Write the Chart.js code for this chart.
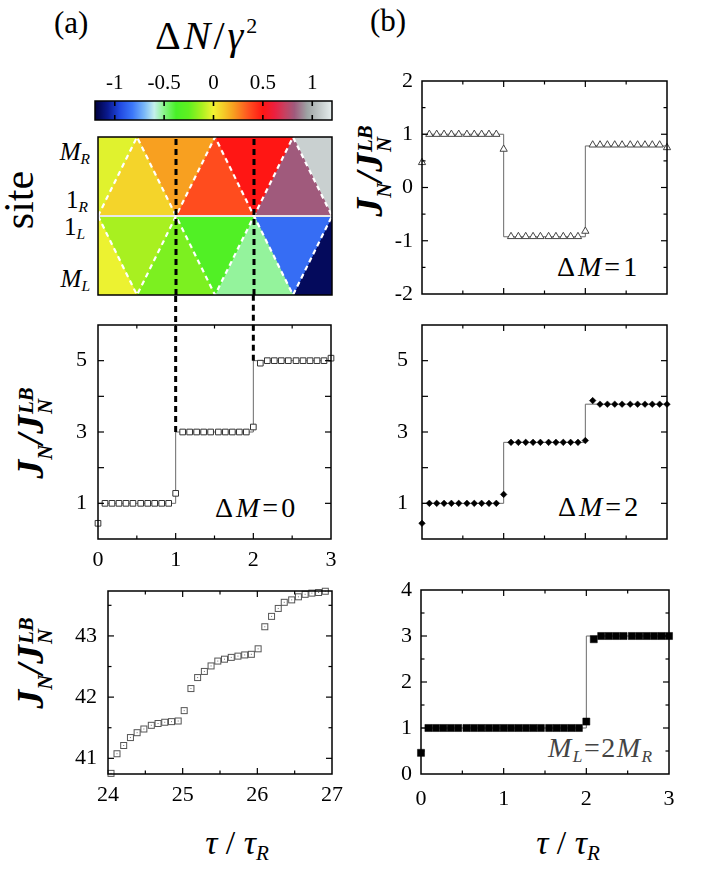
<!DOCTYPE html>
<html><head><meta charset="utf-8">
<script src="https://cdn.jsdelivr.net/npm/chart.js@4.4.1/dist/chart.umd.min.js"></script>
<style>
html,body{margin:0;padding:0;background:#fff;}
body{width:706px;height:873px;position:relative;overflow:hidden;}
.box{position:absolute;}
.t{position:absolute;white-space:nowrap;font-family:'Liberation Serif','DejaVu Serif','Times New Roman',serif;color:#000;line-height:1;}
.c{transform:translate(-50%,-50%);}
.r{transform:translate(-100%,-50%);}
.rot{transform:translate(-50%,-50%) rotate(-90deg);}
.s{font-size:0.62em;vertical-align:-0.3em;line-height:0;font-style:italic;}
.bi{font-weight:bold;font-style:italic;}
.sb{font-size:0.55em;vertical-align:-0.4em;line-height:0;}
.st{display:inline-block;font-size:0.55em;line-height:0.95;vertical-align:-0.45em;margin-left:1px;}
.st span{display:block;}
</style></head><body>

<div class="t" style="left:54px;top:7px;font-size:31px">(a)</div>
<div class="t" style="left:370px;top:5px;font-size:31px">(b)</div>
<div class="t" style="left:155px;top:16px;font-size:40px;letter-spacing:3px">Δ<i>N</i>/<i>γ</i><span style="font-size:0.55em;vertical-align:0.75em;line-height:0">2</span></div>
<div class="t rot" style="left:19px;top:200px;font-size:42px">site</div>

<div class="t r" style="left:90px;top:151px;font-size:25px"><i>M</i><span class="s">R</span></div>
<div class="t r" style="left:88px;top:199px;font-size:25px">1<span class="s">R</span></div>
<div class="t r" style="left:85px;top:226px;font-size:25px">1<span class="s">L</span></div>
<div class="t r" style="left:90px;top:278px;font-size:25px"><i>M</i><span class="s">L</span></div>

<div class="t rot bi" style="left:34px;top:433px;font-size:38px">J<span class="sb">N</span>/J<span class="st"><span>LB</span><span>N</span></span></div>
<div class="t rot bi" style="left:34px;top:663px;font-size:38px">J<span class="sb">N</span>/J<span class="st"><span>LB</span><span>N</span></span></div>
<div class="t rot bi" style="left:373px;top:171px;font-size:38px">J<span class="sb">N</span>/J<span class="st"><span>LB</span><span>N</span></span></div>

<div class="t c" style="left:237px;top:843px;font-size:34px"><i>τ</i> / <i>τ</i><span class="s">R</span></div>
<div class="t c" style="left:568px;top:843px;font-size:34px"><i>τ</i> / <i>τ</i><span class="s">R</span></div>

<div class="t" style="left:557px;top:253px;font-size:28px;letter-spacing:3px">Δ<i>M</i>=1</div>
<div class="t" style="left:215px;top:494px;font-size:28px;letter-spacing:3px">Δ<i>M</i>=0</div>
<div class="t" style="left:558px;top:493px;font-size:28px;letter-spacing:3px">Δ<i>M</i>=2</div>
<div class="t" style="left:548px;top:734px;font-size:28px;letter-spacing:1.5px;color:#444"><i>M</i><span class="s">L</span>=2<i>M</i><span class="s">R</span></div>

<script>
const FONT = "'Liberation Serif', 'DejaVu Serif', 'Times New Roman', serif";

// ---------------- data ----------------
// colour bar
const cbMin = -1.2, cbMax = 1.2;
const cbTicks = [-1, -0.5, 0, 0.5, 1];
const cbStops = [
  [-1.2,'#00003c'],[-1.07,'#0a1a90'],[-0.95,'#2048e0'],[-0.82,'#3c78fa'],
  [-0.7,'#7ab8f8'],[-0.6,'#c4f0ec'],[-0.5,'#88f488'],[-0.38,'#48f028'],
  [-0.25,'#60f020'],[-0.12,'#a8f020'],[0,'#f2f232'],[0.1,'#f4cc28'],
  [0.2,'#f8a020'],[0.35,'#ff5420'],[0.5,'#ff1614'],[0.62,'#ec2040'],
  [0.72,'#c84060'],[0.82,'#a05a7c'],[0.95,'#9ea4a4'],[1.2,'#e6eeee']
];
// site map: zig-zag vertices (tau) and the value of each triangle
const zigX = [0, 0.5, 1, 1.5, 2, 2.5, 3];
const upperVals = [-0.03, 0.08, 0.2, 0.37, 0.5, 0.82, 1.1];   // between 1_R and M_R
const lowerVals = [-0.01, -0.12, -0.2, -0.33, -0.52, -0.85, -1.15]; // between M_L and 1_L
const dividers = [1, 2];

// tau sampling for the step panels
const tauB = [0,0.09,0.18,0.27,0.36,0.45,0.55,0.64,0.73,0.82,0.91,1,
              1.09,1.18,1.27,1.36,1.45,1.55,1.64,1.73,1.82,1.91,2,
              2.09,2.18,2.27,2.36,2.45,2.55,2.64,2.73,2.82,2.91,3];
const dM0 = [0.44,1,1,1,1,1,1,1,1,1,1,1.28,3,3,3,3,3,3,3,3,3,3,3.14,4.93,5,5,5,5,5,5,5,5,5,5.07];
const dM1 = [0.47,1,1,1,1,1,1,1,1,1,1,0.72,-0.92,-0.92,-0.92,-0.92,-0.92,-0.92,-0.92,-0.92,-0.92,-0.92,-0.82,0.8,0.8,0.8,0.8,0.8,0.8,0.8,0.8,0.8,0.8,0.75];
const dM2 = [0.44,1,1,1,1,1,1,1,1,1,1,1.25,2.71,2.71,2.71,2.71,2.71,2.71,2.71,2.71,2.71,2.71,2.76,3.88,3.78,3.78,3.78,3.78,3.78,3.78,3.78,3.78,3.78,3.78];
const mL2 = [0.46,1,1,1,1,1,1,1,1,1,1,1,1,1,1,1,1,1,1,1,1,1,1.14,2.93,3,3,3,3,3,3,3,3,3,3];

const stepTau = [0, 1, 2, 3];
const stepA0 = [1, 3, 5, 5];
const stepB1 = [1, -0.925, 0.78, 0.78];
const stepB2 = [1, 2.71, 3.78, 3.78];
const stepTauML = [0, 2, 3];
const stepML = [1, 3, 3];

// late times (tau 24 .. 27)
const tauLate = [24.04,24.12,24.21,24.3,24.39,24.48,24.58,24.67,24.76,24.85,24.94,25.02,25.11,25.2,25.29,25.38,25.47,25.56,25.65,25.74,25.83,25.92,26.01,26.1,26.19,26.28,26.36,26.46,26.55,26.64,26.73,26.82,26.91];
const late = [40.755,41.075,41.21,41.34,41.42,41.48,41.54,41.57,41.59,41.6,41.61,41.78,42.14,42.32,42.42,42.51,42.59,42.62,42.65,42.67,42.69,42.7,42.79,43.15,43.32,43.45,43.55,43.59,43.64,43.68,43.7,43.71,43.73];

// tick values
const xLab03 = [0, 1, 2, 3];
const xMaj03 = [1, 2], xMin03 = [0.5, 1.5, 2.5];
const yLabA = [1, 3, 5], yMajA = [1, 2, 3, 4, 5];
const yLabB1 = [-2, -1, 0, 1, 2], yMajB1 = [-1, 0, 1], yMinB1 = [-1.5, -0.5, 0.5, 1.5];
const yLabML = [0, 1, 2, 3, 4], yMajML = [1, 2, 3], yMinML = [0.5, 1.5, 2.5, 3.5];
const xLabLate = [24, 25, 26, 27], xMajLate = [25, 26], xMinLate = [24.5, 25.5, 26.5];
const yLabLate = [41, 42, 43], yMinLate = [41.5, 42.5, 43.5];

// ---------------- helpers ----------------
function hex(c){return [parseInt(c.slice(1,3),16),parseInt(c.slice(3,5),16),parseInt(c.slice(5,7),16)];}
function cmap(v){
  if (v <= cbStops[0][0]) return cbStops[0][1];
  for (let i=1;i<cbStops.length;i++){
    if (v <= cbStops[i][0]){
      const [v0,c0]=cbStops[i-1],[v1,c1]=cbStops[i];
      const f=(v-v0)/(v1-v0), a=hex(c0), b=hex(c1);
      return 'rgb('+a.map((x,k)=>Math.round(x+(b[k]-x)*f)).join(',')+')';
    }
  }
  return cbStops[cbStops.length-1][1];
}
const pts = (xs, ys) => xs.map((x,i)=>({x, y: ys[i]}));

const frameTicks = {
  id: 'frameTicks',
  afterDatasetsDraw(chart, args, o) {
    const {ctx, chartArea: a, scales} = chart;
    const xs = scales.x, ys = scales.y;
    ctx.save();
    ctx.strokeStyle = '#000';
    ctx.lineWidth = o.tw || 1.2;
    const seg=(x1,y1,x2,y2)=>{ctx.beginPath();ctx.moveTo(x1,y1);ctx.lineTo(x2,y2);ctx.stroke();};
    const M = o.major || 6, m = o.minor || 3.5;
    const doX=(vals,L)=>(vals||[]).forEach(v=>{const p=xs.getPixelForValue(v);seg(p,a.bottom,p,a.bottom-L);seg(p,a.top,p,a.top+L);});
    const doY=(vals,L)=>(vals||[]).forEach(v=>{const p=ys.getPixelForValue(v);seg(a.left,p,a.left+L,p);seg(a.right,p,a.right-L,p);});
    doX(o.xMajor,M); doX(o.xMinor,m); doY(o.yMajor,M); doY(o.yMinor,m);
    ctx.lineWidth = o.fw || 1.5;
    ctx.strokeRect(a.left, a.top, a.width, a.height);
    ctx.restore();
  }
};

function mk(rect, pad, cfg) {
  const d = document.createElement('div');
  d.className = 'box';
  d.style.left = (rect[0]-pad.l)+'px';
  d.style.top = (rect[1]-pad.t)+'px';
  d.style.width = (rect[2]-rect[0]+pad.l+pad.r)+'px';
  d.style.height = (rect[3]-rect[1]+pad.t+pad.b)+'px';
  const c = document.createElement('canvas');
  d.appendChild(c); document.body.appendChild(d);
  cfg.plugins = (cfg.plugins||[]).concat([frameTicks]);
  return new Chart(c, cfg);
}

function panel(o) {
  return {
    responsive: true, maintainAspectRatio: false, animation: false,
    layout: {padding: {top: o.pad.t, right: o.pad.r, left: 0, bottom: 0}},
    plugins: {legend: {display: false}, tooltip: {enabled: false}, frameTicks: o.ticks},
    scales: {
      x: {type: 'linear', position: 'bottom', min: o.xmin, max: o.xmax,
          grid: {display: false, drawTicks: false}, border: {display: false},
          afterBuildTicks: s => { s.ticks = o.xLab.map(v => ({value: v})); },
          afterFit: s => { s.height = o.pad.b; s.paddingLeft = 0; s.paddingRight = 0; s.paddingTop = 0; s.paddingBottom = 0; },
          ticks: {display: o.showX, autoSkip: false, maxRotation: 0, padding: o.xPad || 8,
                  font: {family: FONT, size: 22}, color: '#000', callback: v => String(v)}},
      y: {type: 'linear', position: 'left', min: o.ymin, max: o.ymax,
          grid: {display: false, drawTicks: false}, border: {display: false},
          afterBuildTicks: s => { s.ticks = o.yLab.map(v => ({value: v})); },
          afterFit: s => { s.width = o.pad.l; s.paddingLeft = 0; s.paddingRight = 0; s.paddingTop = 0; s.paddingBottom = 0; },
          ticks: {autoSkip: false, padding: o.yPad || 10,
                  font: {family: FONT, size: 22}, color: '#000', callback: v => String(v)}}
    }
  };
}

const stepDs = (xs, ys) => ({data: pts(xs, ys), stepped: 'before', borderColor: '#6a6a6a', borderWidth: 1, pointRadius: 0, fill: false});

// ---------------- colour bar ----------------
(function(){
  const pad = {l: 3, r: 3, t: 40, b: 3};
  mk([95,101,332,120], pad, {
    type: 'bar',
    data: {labels: ['c'], datasets: [{
      data: [[cbMin, cbMax]], borderWidth: 0, barPercentage: 1, categoryPercentage: 1,
      backgroundColor: (c) => {
        const ch = c.chart, xs = ch.scales.x;
        if (!ch.chartArea || !xs) return '#888';
        const p0 = xs.getPixelForValue(cbMin), p1 = xs.getPixelForValue(cbMax);
        const g = ch.ctx.createLinearGradient(p0, 0, p1, 0);
        cbStops.forEach(([v, col]) => g.addColorStop((v - cbMin) / (cbMax - cbMin), col));
        return g;
      }
    }]},
    options: {
      indexAxis: 'y', responsive: true, maintainAspectRatio: false, animation: false,
      layout: {padding: {left: pad.l, right: pad.r, top: 0, bottom: pad.b}},
      plugins: {legend: {display: false}, tooltip: {enabled: false},
                frameTicks: {xMajor: cbTicks, major: 5, tw: 1.6, fw: 1.5}},
      scales: {
        x: {type: 'linear', position: 'top', min: cbMin, max: cbMax,
            grid: {display: false, drawTicks: false}, border: {display: false},
            afterBuildTicks: s => { s.ticks = cbTicks.map(v => ({value: v})); },
            afterFit: s => { s.height = pad.t; s.paddingLeft = 0; s.paddingRight = 0; },
            ticks: {autoSkip: false, maxRotation: 0, padding: 5, font: {family: FONT, size: 21}, color: '#000', callback: v => String(v)}},
        y: {display: false}
      }
    }
  });
})();

// ---------------- site map ----------------
(function(){
  const ds = [];
  dividers.forEach(t => ds.push({data: pts([t, t], [0, 1]), borderColor: '#000', borderWidth: 3, borderDash: [6, 4], pointRadius: 0, fill: false}));
  ds.push({data: pts(zigX, zigX.map((_, i) => i % 2 ? 1 : 0.5)), borderColor: '#fff', borderWidth: 2.2, borderDash: [5, 4], pointRadius: 0, fill: false});
  ds.push({data: pts(zigX, zigX.map((_, i) => i % 2 ? 0 : 0.5)), borderColor: '#fff', borderWidth: 2.2, borderDash: [5, 4], pointRadius: 0, fill: false});
  ds.push({data: pts([0, 3], [0.5, 0.5]), borderColor: '#e8e8e8', borderWidth: 2, pointRadius: 0, fill: false});
  const tri = (vals, apex) => vals.forEach((v, i) => {
    let xs, ys, base;
    if (i === 0) { xs = [zigX[0], zigX[1]]; ys = [0.5, apex]; base = apex; }
    else if (i === vals.length - 1) { xs = [zigX[i - 1], zigX[i]]; ys = [apex, 0.5]; base = apex; }
    else if (i % 2) { xs = [zigX[i - 1], zigX[i], zigX[i + 1]]; ys = [0.5, apex, 0.5]; base = 0.5; }
    else { xs = [zigX[i - 1], zigX[i], zigX[i + 1]]; ys = [apex, 0.5, apex]; base = apex; }
    const col = cmap(v);
    ds.push({data: pts(xs, ys), borderColor: col, backgroundColor: col, borderWidth: 1, pointRadius: 0, fill: {value: base}});
  });
  tri(upperVals, 1);
  tri(lowerVals, 0);
  const pad = {l: 3, r: 3, t: 3, b: 3};
  mk([98,137,332,295], pad, {
    type: 'line', data: {datasets: ds},
    options: {
      responsive: true, maintainAspectRatio: false, animation: false,
      layout: {padding: pad.l},
      plugins: {legend: {display: false}, tooltip: {enabled: false}, frameTicks: {fw: 1.5}},
      scales: {x: {type: 'linear', min: 0, max: 3, display: false}, y: {type: 'linear', min: 0, max: 1, display: false}}
    }
  });
})();

// ---------------- (a) middle: Delta M = 0 ----------------
(function(){
  const pad = {l: 98, r: 4, t: 30, b: 42};
  mk([98,325,332,539], pad, {
    type: 'line',
    data: {datasets: [
      {data: pts(tauB, dM0), showLine: false, pointStyle: 'rect', pointRadius: 4, pointBorderColor: '#333', pointBackgroundColor: '#fff', pointBorderWidth: 1, clip: 8},
      {data: pts([1, 1], [3, 6.86]), clip: false, borderColor: '#000', borderWidth: 3, borderDash: [6, 4], pointRadius: 0, fill: false},
      {data: pts([2, 2], [5, 6.86]), clip: false, borderColor: '#000', borderWidth: 3, borderDash: [6, 4], pointRadius: 0, fill: false},
      stepDs(stepTau, stepA0)
    ]},
    options: panel({pad, xmin: 0, xmax: 3, ymin: 0, ymax: 6, xLab: xLab03, yLab: yLabA, showX: true, xPad: 8, yPad: 11,
      ticks: {xMajor: xMaj03, xMinor: xMin03, yMajor: yMajA}})
  });
})();

// ---------------- (a) bottom: late times ----------------
(function(){
  const img = document.createElement('canvas');
  img.width = img.height = 9;
  const g = img.getContext('2d');
  g.fillStyle = '#fff'; g.fillRect(1, 1, 7, 7);
  g.strokeStyle = '#555'; g.lineWidth = 1; g.strokeRect(1.5, 1.5, 6, 6);
  g.fillStyle = '#777'; g.fillRect(4, 4, 1, 1);
  const pad = {l: 108, r: 14, t: 6, b: 42};
  mk([108,591,332,774], pad, {
    type: 'line',
    data: {datasets: [
      {data: pts(tauLate, late), showLine: false, pointStyle: img, pointRadius: 4, clip: 6}
    ]},
    options: panel({pad, xmin: 24, xmax: 27, ymin: 40.744, ymax: 43.734, xLab: xLabLate, yLab: yLabLate, showX: true, xPad: 8, yPad: 11,
      ticks: {xMajor: xMajLate, xMinor: xMinLate, yMajor: yLabLate, yMinor: yMinLate}})
  });
})();

// ---------------- (b) top: Delta M = 1 ----------------
(function(){
  const pad = {l: 60, r: 8, t: 14, b: 6};
  mk([422,81,667,294], pad, {
    type: 'line',
    data: {datasets: [
      {data: pts(tauB, dM1), showLine: false, pointStyle: 'triangle', pointRadius: 4.2, pointBorderColor: '#444', pointBackgroundColor: '#fff', pointBorderWidth: 1, clip: 8},
      stepDs(stepTau, stepB1)
    ]},
    options: panel({pad, xmin: 0, xmax: 3, ymin: -2, ymax: 2, xLab: xLab03, yLab: yLabB1, showX: false, yPad: 9,
      ticks: {xMajor: xMaj03, xMinor: xMin03, yMajor: yMajB1, yMinor: yMinB1}})
  });
})();

// ---------------- (b) middle: Delta M = 2 ----------------
(function(){
  const pad = {l: 60, r: 8, t: 14, b: 6};
  mk([422,325,667,539], pad, {
    type: 'line',
    data: {datasets: [
      {data: pts(tauB, dM2), showLine: false, pointStyle: 'rectRot', pointRadius: 3.3, pointBorderColor: '#000', pointBackgroundColor: '#000', pointBorderWidth: 0.5, clip: 8},
      stepDs(stepTau, stepB2)
    ]},
    options: panel({pad, xmin: 0, xmax: 3, ymin: 0, ymax: 6, xLab: xLab03, yLab: yLabA, showX: false, yPad: 14,
      ticks: {xMajor: xMaj03, xMinor: xMin03, yMajor: yMajA}})
  });
})();

// ---------------- (b) bottom: M_L = 2 M_R ----------------
(function(){
  const pad = {l: 60, r: 8, t: 14, b: 46};
  mk([421,590,669,774], pad, {
    type: 'line',
    data: {datasets: [
      {data: pts(tauB, mL2), showLine: false, pointStyle: 'rect', pointRadius: 5, pointBorderColor: '#000', pointBackgroundColor: '#000', pointBorderWidth: 0.5, clip: 8},
      stepDs(stepTauML, stepML)
    ]},
    options: panel({pad, xmin: 0, xmax: 3, ymin: 0, ymax: 4, xLab: xLab03, yLab: yLabML, showX: true, xPad: 12, yPad: 9,
      ticks: {xMajor: xMaj03, xMinor: xMin03, yMajor: yMajML, yMinor: yMinML}})
  });
})();
</script>
</body></html>
